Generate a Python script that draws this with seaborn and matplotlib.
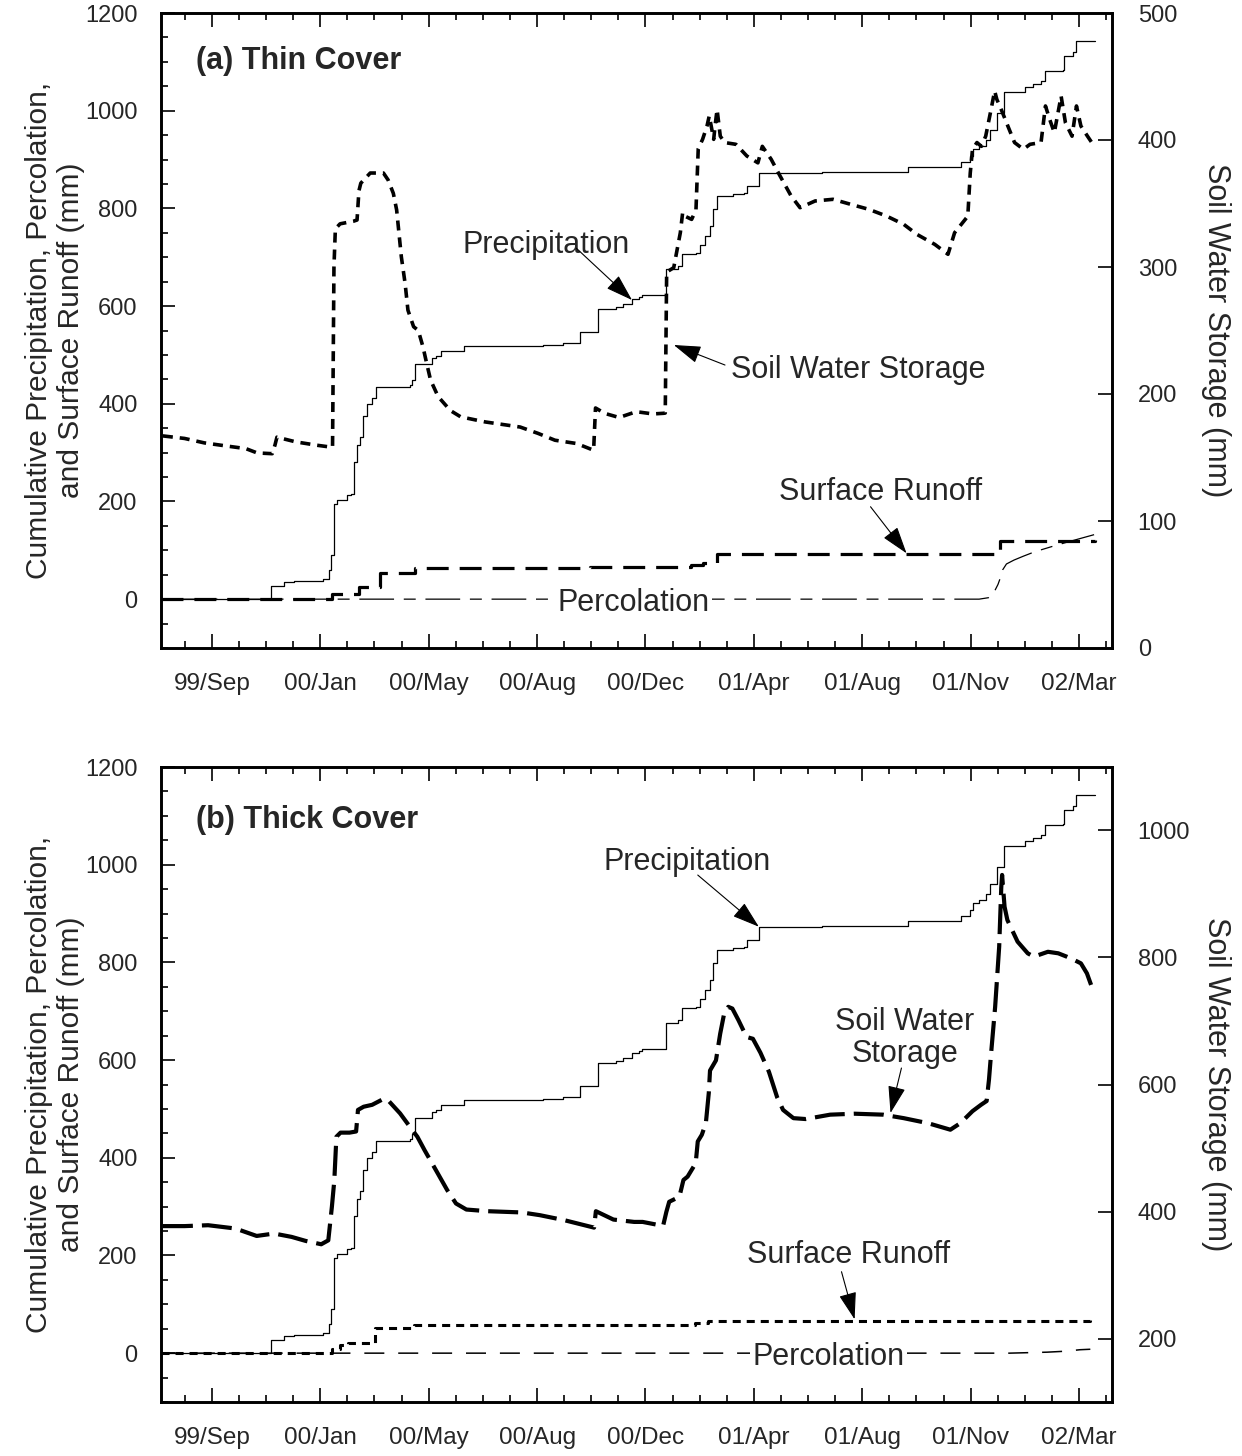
import matplotlib
matplotlib.use("Agg")
import matplotlib.pyplot as plt
from matplotlib.ticker import FixedLocator, MultipleLocator
import seaborn as sns

# Days are counted from the start of monitoring, 23 July 1999 (day 0).
tick_days = [54, 169, 284, 399, 514, 629, 744, 859, 974]
tick_labels = ['99/Sep', '00/Jan', '00/May', '00/Aug', '00/Dec',
               '01/Apr', '01/Aug', '01/Nov', '02/Mar']
minor_step = 28.75
day_max = 1009

# Cumulative precipitation (mm), same record for both covers
precipitation = [
    (0, 0), (116, 0), (117, 26), (130, 36), (141, 38), (172, 42), (178, 60),
    (180, 91), (184, 195), (187, 202), (197, 214), (202, 216), (205, 280),
    (208, 315), (211, 332), (214, 375), (219, 400), (224, 411), (228, 435),
    (264, 438), (266, 449), (269, 481), (288, 493), (292, 498), (297, 509),
    (321, 519), (405, 520), (426, 524), (445, 547), (464, 593), (478, 594),
    (483, 599), (490, 604), (500, 614), (507, 619), (510, 623), (536, 675),
    (549, 682), (553, 706), (568, 708), (572, 725), (577, 743), (582, 764),
    (586, 798), (590, 825), (607, 830), (619, 832), (622, 846), (635, 873),
    (701, 874), (793, 884), (849, 894), (858, 907), (861, 921), (868, 928),
    (875, 941), (880, 960), (887, 996), (894, 1038), (917, 1049), (925, 1054),
    (934, 1061), (938, 1081), (957, 1083), (958, 1112), (968, 1120),
    (971, 1143), (991, 1143),
]

# (a) thin cover
storage_thin = [
    (2, 167), (25, 165), (46, 161.5), (70, 159), (90, 157), (102, 153.6),
    (118, 153), (121, 160), (123, 166), (143, 162.3), (165, 159.7),
    (178, 158.4), (182, 158), (183.5, 300), (185, 330), (190, 334), (204, 336),
    (208, 337), (210, 360), (212, 366), (222, 374), (236, 374), (241, 368.5),
    (246.5, 358), (250, 345), (255, 308), (259, 287), (262, 266), (268, 253),
    (273, 250), (278, 237), (281, 227), (286, 211), (294, 198), (307, 187),
    (318, 182), (344, 178), (381, 174), (400, 169), (418, 163.6), (441, 161),
    (459, 155.7), (461, 189), (471, 184.7), (486, 181.5), (504, 186),
    (509, 185.6), (522, 184.3), (533, 184.8), (535, 185), (536.5, 296),
    (544, 299.5), (551, 327), (553.5, 343), (556, 340), (563, 337.5),
    (567.6, 345), (570, 393), (574.6, 400.5), (579.3, 411), (581.7, 419),
    (584, 410), (586.4, 400.5), (588, 412), (590, 424), (593.4, 403),
    (598, 398), (610, 396.6), (621.6, 387.4), (633.3, 382), (638, 395),
    (647.4, 384.8), (656.8, 371.7), (668.5, 356), (678, 346.7), (694, 352),
    (713, 353.3), (732, 349.3), (751, 345.4), (769.5, 340.2), (788, 333.6),
    (802, 325.7), (821, 317.8), (835, 310), (842, 327), (856, 340),
    (858.6, 374), (861, 392.7), (865.7, 398), (870.4, 395), (875, 403),
    (880, 421.5), (884.5, 438.6), (886.8, 432), (891.5, 424), (898.5, 411),
    (905.6, 398), (915, 392.7), (922, 396.6), (933.7, 398), (938.4, 426.8),
    (943, 416), (947.8, 405.8), (955, 434.6), (959.6, 413.6), (966.6, 403),
    (971.3, 426.8), (976, 411), (983, 403), (990, 395.3),
]
runoff_thin = [
    (0, 0), (180, 0), (181, 10), (210, 24), (232, 53), (269, 64), (455, 66),
    (562, 70), (575, 74), (590, 92), (890, 119), (991, 121),
]
percolation_thin = [
    (0, 0), (868, 0), (878, 3), (883, 11), (888, 30), (891, 46), (893, 60),
    (897, 72), (905, 80), (915, 88), (927, 97), (944, 107), (962, 117),
    (975, 124), (990, 132),
]

# (b) thick cover
storage_thick = [
    (2, 377), (25, 377), (50, 378.4), (79, 373.2), (101.5, 361.5), (120, 365.3),
    (138.6, 360), (153.4, 353.7), (170, 348.4), (177.5, 354.6), (181.3, 407.3),
    (183.9, 449.3), (186.1, 517.7), (190.5, 524.2), (200, 524.2), (207, 526),
    (209, 560), (215, 565), (224, 568), (237, 578), (241, 575),
    (253.6, 554.6), (266.6, 528.3), (272, 517.7), (279.6, 496.7),
    (290.7, 467.7), (303.7, 433.6), (313, 412.6), (324, 403.1), (346, 400.5),
    (383, 398.5), (402, 394.2), (428, 386.3), (459.5, 374.6), (461.4, 400.5),
    (480, 387.3), (502, 383.6), (511, 383.6), (520, 381), (532.7, 377.3),
    (536.2, 399.5), (539.2, 415.3), (550, 423.2), (554.3, 449.6),
    (558.7, 454.9), (567.3, 476), (569.5, 510.3), (573.8, 520.8),
    (578.1, 539.3), (581.2, 586.8), (582.5, 622), (588.8, 638), (593.3, 680),
    (597.5, 711.7), (601.9, 722.3), (606.2, 719.6), (612.7, 701.2),
    (621.3, 674.8), (628, 672), (636, 650), (645, 620), (653.7, 580),
    (660, 560), (671, 547), (684, 545.6), (710, 552.5), (736, 554),
    (766, 552.5), (788, 547), (814, 539), (837.5, 528.8), (848, 539),
    (861, 558), (870, 568), (876, 574), (878.5, 608), (880.7, 648.5),
    (885, 722), (889.3, 817), (891.5, 910), (892.4, 930), (895, 880),
    (898, 859), (908.8, 825), (919.6, 806.6), (926, 801.3), (941, 809),
    (952, 806.6), (961, 801.3), (969, 796), (976, 790.8), (982.4, 775),
    (988.8, 748.6),
]
runoff_thick = [
    (0, 0), (179, 0), (181, 8), (190, 16), (198, 20.5), (227, 52), (268, 56.8),
    (545, 56.8), (567, 60.8), (580, 66.4), (986, 67.7),
]
percolation_thick = [
    (0, 0), (900, 0), (940, 2), (960, 4), (975, 7), (986, 8),
]

sns.set_style("ticks")
plt.rcParams['font.family'] = ['Liberation Sans', 'DejaVu Sans']
plt.rcParams['lines.scale_dashes'] = False
plt.rcParams['axes.linewidth'] = 1.9

BLACK = 'black'
TICK_FS = 17
LABEL_FS = 21.5
NOTE_FS = 22


def draw_series(ax, series, lw, ls, steps=False):
    x, y = zip(*series)
    kw = dict(drawstyle='steps-post') if steps else {}
    sns.lineplot(x=list(x), y=list(y), ax=ax, color=BLACK, linewidth=lw,
                 linestyle=ls, estimator=None, **kw)


def style_axes(ax, ax2, right_lim, right_step):
    ax.set_xlim(0, day_max)
    ax.set_ylim(-100, 1200)
    ax.xaxis.set_major_locator(FixedLocator(tick_days))
    minor = [tick_days[0] - minor_step + i * minor_step for i in range(40)]
    ax.xaxis.set_minor_locator(FixedLocator([m for m in minor if 0 < m < day_max]))
    ax.set_xticklabels(tick_labels)
    ax.yaxis.set_major_locator(MultipleLocator(200))
    ax.yaxis.set_minor_locator(MultipleLocator(50))
    ax.tick_params(axis='x', which='major', direction='in', length=10, width=1.4,
                   top=True, bottom=True, labelsize=TICK_FS + 0.5, pad=18)
    ax.tick_params(axis='x', which='minor', direction='in', length=5, width=1.4,
                   top=True, bottom=True)
    ax.tick_params(axis='y', which='major', direction='in', length=10, width=1.4,
                   left=True, right=False, labelsize=TICK_FS, pad=17)
    ax.tick_params(axis='y', which='minor', direction='in', length=5, width=1.4,
                   left=True, right=False)
    ax2.set_ylim(*right_lim)
    ax2.yaxis.set_major_locator(MultipleLocator(right_step))
    ax2.tick_params(axis='y', which='major', direction='in', length=10, width=1.4,
                    right=True, labelsize=TICK_FS, pad=18.5)
    for a in (ax, ax2):
        for sp in a.spines.values():
            sp.set_visible(True)
            sp.set_linewidth(1.9)
            sp.set_color(BLACK)
    ax.set_xlabel('')
    ax.set_ylabel("Cumulative Precipitation, Percolation,\nand Surface Runoff (mm)",
                  fontsize=LABEL_FS)
    ax.yaxis.set_label_coords(-0.0795, 0.5)
    ax2.set_ylabel("Soil Water Storage (mm)", fontsize=NOTE_FS, rotation=270,
                   va='bottom')
    ax2.yaxis.set_label_coords(1.0935, 0.5)


def arrow(ax, tail, tip):
    ax.annotate('', xy=tip, xytext=tail,
                arrowprops=dict(arrowstyle='-|>,head_length=1.7,head_width=0.55',
                                mutation_scale=10, lw=0.8, color=BLACK,
                                shrinkA=0, shrinkB=0))


fig = plt.figure(figsize=(12.42, 14.56), dpi=100)
W, H = 1242, 1456
ax_a = fig.add_axes([161 / W, 1 - 648 / H, 951 / W, 635 / H])
ax_b = fig.add_axes([161 / W, 1 - 1402 / H, 951 / W, 635 / H])
ax_a2 = ax_a.twinx()
ax_b2 = ax_b.twinx()

# ---- (a) Thin cover ----
draw_series(ax_a, percolation_thin, 0.9, (0, (25, 7, 8.6, 7)))
draw_series(ax_a, runoff_thin, 2.3, (0, (15.8, 7.9)), steps=True)
draw_series(ax_a, precipitation, 0.9, '-', steps=True)
draw_series(ax_a2, storage_thin, 2.6, (0, (7.2, 5.0)))
style_axes(ax_a, ax_a2, (0, 500), 100)

ax_a.text(0.0368, 0.924, "(a) Thin Cover", transform=ax_a.transAxes,
          fontsize=NOTE_FS, fontweight='bold', va='center', ha='left')
ax_a.text(409, 708.6, "Precipitation", fontsize=NOTE_FS, ha='center', va='baseline')
arrow(ax_a, (440.8, 718.2), (499.7, 612.4))
ax_a.text(739.7, 452, "Soil Water Storage", fontsize=NOTE_FS, ha='center', va='baseline')
arrow(ax_a, (598.4, 479.3), (544.1, 520.3))
ax_a.text(763.8, 203, "Surface Runoff", fontsize=NOTE_FS, ha='center', va='baseline')
arrow(ax_a, (752.8, 189.2), (791, 93.9))
ax_a.text(501.3, -23.5, "Percolation", fontsize=NOTE_FS, ha='center', va='baseline',
          bbox=dict(facecolor='white', edgecolor='none', pad=1.5), zorder=5)

# ---- (b) Thick cover ----
draw_series(ax_b, percolation_thick, 1.1, (0, (14.4, 10)))
draw_series(ax_b, runoff_thick, 2.2, (0, (5.8, 4.3)), steps=True)
draw_series(ax_b, precipitation, 0.9, '-', steps=True)
draw_series(ax_b2, storage_thick, 3.0, (0, (21.6, 6.5)))
style_axes(ax_b, ax_b2, (100, 1100), 200)

ax_b.text(0.0368, 0.917, "(b) Thick Cover", transform=ax_b.transAxes,
          fontsize=NOTE_FS, fontweight='bold', va='center', ha='left')
ax_b.text(558.6, 989, "Precipitation", fontsize=NOTE_FS, ha='center', va='baseline')
arrow(ax_b, (569.5, 978.8), (634.3, 873))
ax_b.text(789, 661.5, "Soil Water", fontsize=NOTE_FS, ha='center', va='baseline')
ax_b.text(789, 596.6, "Storage", fontsize=NOTE_FS, ha='center', va='baseline')
arrow(ax_b, (785.6, 583.7), (774, 491.6))
ax_b.text(729.4, 184, "Surface Runoff", fontsize=NOTE_FS, ha='center', va='baseline')
arrow(ax_b, (722, 166.7), (735.9, 69.3))
ax_b.text(708.3, -24.3, "Percolation", fontsize=NOTE_FS, ha='center', va='baseline',
          bbox=dict(facecolor='white', edgecolor='none', pad=1.5), zorder=5)

fig.savefig("out.png", dpi=100)
